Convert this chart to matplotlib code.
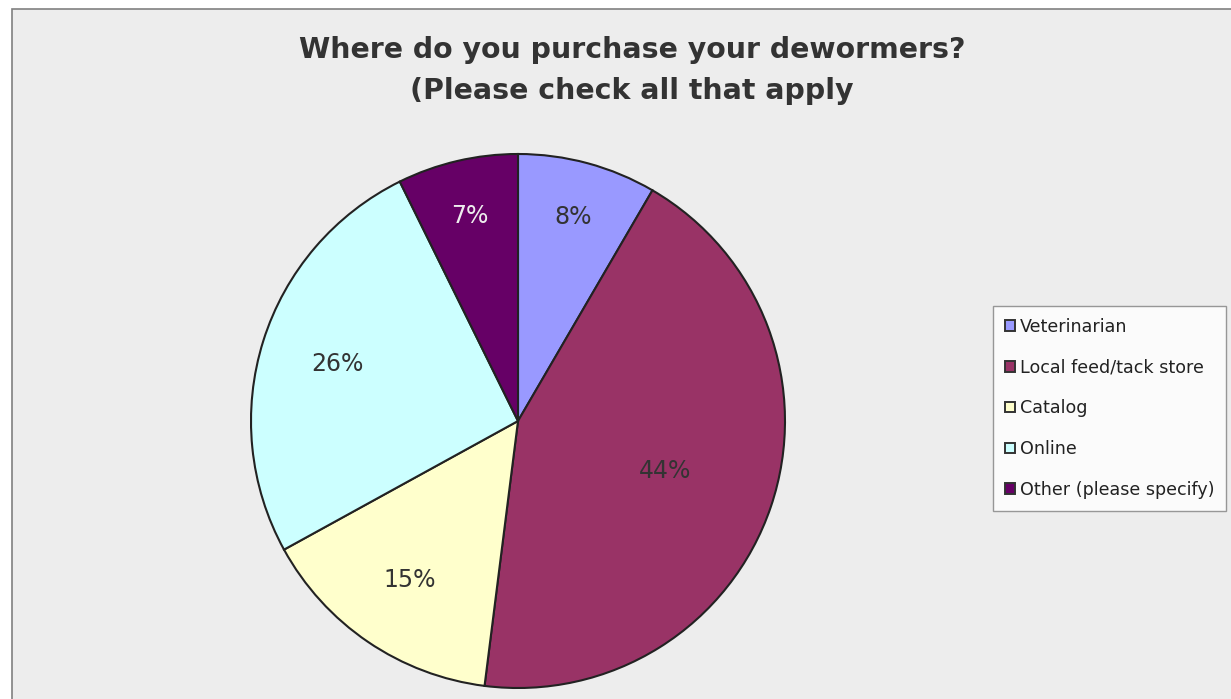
import matplotlib.pyplot as plt
from matplotlib.patches import Rectangle, Patch
import numpy as np

plt.rcParams['font.family'] = ['DejaVu Sans']

# survey answers (percent of respondents)
labels = ["Veterinarian", "Local feed/tack store", "Catalog", "Online", "Other (please specify)"]
shares = [8.4, 43.6, 15.0, 25.7, 7.3]
colors = ["#9999FF", "#993366", "#FFFFCC", "#CCFFFF", "#660066"]
# % label colour and how far out it sits (fraction of radius)
text_colors = ["#333333", "#333333", "#333333", "#333333", "#EEEEEE"]
label_radius = [0.79, 0.58, 0.72, 0.71, 0.79]

W, H = 1231, 699
fig = plt.figure(figsize=(W / 100, H / 100), dpi=100)
fig.patch.set_facecolor("white")

# chart area background with grey border
fig.patches.append(Rectangle((12 / W, -0.01), 1.0, 1.01 - 9 / H, transform=fig.transFigure,
                             facecolor="#EDEDED", edgecolor="#808080", linewidth=1.2,
                             zorder=-5))

fig.text(632 / W, 1 - 70.5 / H, "Where do you purchase your dewormers?\n(Please check all that apply",
         ha="center", va="center", fontsize=20.4, fontweight="bold", color="#333333",
         linespacing=1.6)

cx, cy, r = 518, 421, 267
ax = fig.add_axes([(cx - r) / W, (H - cy - r) / H, 2 * r / W, 2 * r / H])
wedges, _ = ax.pie(shares, colors=colors, startangle=90, counterclock=False,
                   wedgeprops=dict(edgecolor="#222222", linewidth=1.5, clip_on=False))
ax.set_xlim(-1, 1)
ax.set_ylim(-1, 1)
ax.set_aspect("equal")
ax.axis("off")

total = sum(shares)
for w, s, d, tc in zip(wedges, shares, label_radius, text_colors):
    ang = np.deg2rad((w.theta1 + w.theta2) / 2)
    ax.text(d * np.cos(ang), d * np.sin(ang), f"{round(100 * s / total)}%", ha="center",
            va="center", fontsize=17, color=tc)

handles = [Patch(facecolor=c, edgecolor="#333333", linewidth=1.4) for c in colors]
leg = fig.legend(handles, labels, loc="upper left", bbox_to_anchor=(993 / W, 1 - 306 / H),
                 frameon=True, fancybox=False, fontsize=12.6, handlelength=0.55,
                 handleheight=0.55, handletextpad=0.3, labelspacing=1.3,
                 borderpad=0.68, borderaxespad=0)
leg.get_frame().set_edgecolor("#808080")
leg.get_frame().set_facecolor("white")
leg.get_frame().set_linewidth(1.0)
for t in leg.get_texts():
    t.set_color("#222222")

fig.savefig("out.png", dpi=100)
